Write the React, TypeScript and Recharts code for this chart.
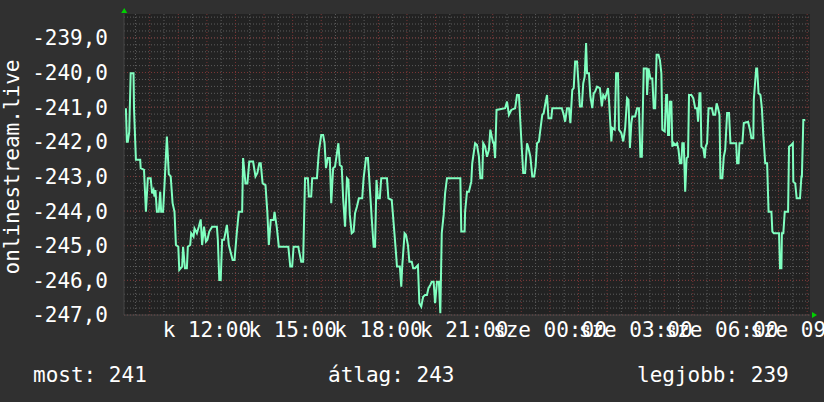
import React from 'react';
import { LineChart, Line, XAxis, YAxis, CartesianGrid, ReferenceDot } from 'recharts';

// minutes since Tuesday 09:00
const times = [
  10, 12, 14, 17, 20, 26, 27, 31, 40, 41, 48, 52, 56, 62, 65, 68, 70, 72, 75, 79,
  82, 84, 88, 91, 96, 100, 104, 108, 112, 115, 120, 122, 128, 130, 134, 138, 140, 145, 147, 152,
  154, 159, 163, 167, 170, 174, 178, 181, 185, 191, 201, 203, 206, 209, 212, 216, 222, 226, 234, 238,
  243, 247, 254, 256, 261, 265, 269, 277, 282, 286, 290, 293, 297, 303, 307, 310, 314, 320, 322, 327,
  331, 351, 355, 359, 362, 372, 373, 378, 382, 386, 392, 394, 399, 401, 411, 415, 420, 424, 427, 430,
  434, 438, 441, 445, 449, 453, 456, 459, 463, 466, 470, 474, 477, 480, 484, 488, 491, 495, 499, 506,
  509, 514, 518, 521, 526, 530, 533, 536, 539, 543, 546, 558, 561, 568, 572, 577, 579, 585, 588, 590,
  595, 598, 602, 605, 610, 613, 617, 623, 626, 630, 634, 638, 642, 645, 649, 652, 656, 659, 663, 667,
  670, 673, 677, 680, 684, 712, 714, 721, 722, 726, 730, 735, 737, 743, 747, 751, 754, 758, 760, 764,
  768, 772, 775, 778, 781, 782, 785, 788, 806, 810, 814, 819, 827, 831, 835, 840, 844, 848, 852, 855,
  859, 863, 867, 870, 873, 877, 880, 884, 887, 890, 894, 897, 903, 905, 925, 929, 932, 936, 940, 943,
  947, 950, 953, 957, 960, 963, 967, 970, 973, 976, 978, 982, 985, 989, 992, 995, 999, 1005, 1009, 1012,
  1016, 1022, 1024, 1029, 1031, 1036, 1039, 1043, 1045, 1050, 1054, 1058, 1062, 1065, 1068, 1071, 1073, 1079, 1083, 1087,
  1090, 1093, 1097, 1099, 1103, 1104, 1107, 1111, 1115, 1118, 1121, 1124, 1128, 1131, 1134, 1136, 1141, 1144, 1146, 1148,
  1150, 1152, 1155, 1157, 1160, 1163, 1167, 1170, 1173, 1176, 1178, 1181, 1184, 1187, 1190, 1192, 1197, 1201, 1205, 1209,
  1211, 1214, 1216, 1218, 1222, 1225, 1227, 1230, 1233, 1240, 1243, 1247, 1250, 1253, 1256, 1258, 1262, 1265, 1268, 1272,
  1276, 1279, 1291, 1293, 1296, 1298, 1304, 1307, 1316, 1320, 1323, 1327, 1328, 1333, 1335, 1338, 1342, 1345, 1348, 1352,
  1356, 1359, 1365, 1367, 1370, 1381, 1383, 1386, 1387, 1390, 1393, 1400, 1402, 1407, 1410, 1411, 1415, 1418, 1425, 1428,
  1429, 1432, 1436,
];

const values = [
  -241.03, -242.0, -242.0, -241.71, -240.02, -240.02, -241.03, -242.52, -242.52, -242.76, -242.81, -244.02, -243.05, -243.05, -243.49, -243.39, -243.58, -243.39, -244.02, -244.02,
  -243.44, -244.02, -244.02, -243.25, -241.85, -242.93, -243.0, -243.77, -244.02, -244.98, -245.03, -245.7, -245.6, -245.03, -245.65, -245.65, -245.03, -244.98, -244.64, -244.74,
  -244.5, -244.64, -244.45, -244.24, -244.98, -244.45, -244.88, -244.83, -244.59, -244.45, -244.45, -244.83, -245.99, -245.99, -244.83, -244.83, -244.4, -244.98, -245.41, -245.41,
  -244.59, -244.02, -244.02, -242.47, -243.2, -243.2, -242.57, -242.57, -243.0, -242.9, -242.62, -242.62, -243.2, -243.25, -244.06, -244.98, -244.26, -244.26, -244.02, -244.5,
  -245.03, -245.03, -245.6, -245.6, -245.03, -245.03, -245.12, -245.46, -245.46, -243.05, -243.05, -243.58, -243.58, -243.05, -243.05, -242.28, -241.8, -241.8, -242.04, -242.76,
  -242.47, -242.47, -243.77, -242.76, -242.71, -242.33, -242.04, -242.67, -242.71, -243.63, -244.45, -243.05, -243.1, -244.11, -244.64, -244.59, -244.06, -243.87, -243.63, -243.63,
  -243.05, -242.47, -242.47, -243.1, -244.21, -245.03, -245.03, -243.1, -243.63, -243.63, -243.05, -243.05, -243.63, -243.68, -244.35, -245.22, -245.6, -245.6, -246.18, -245.6,
  -244.64, -244.69, -244.98, -245.46, -245.46, -245.65, -245.65, -245.56, -246.66, -246.76, -246.47, -246.42, -246.42, -246.23, -246.13, -246.04, -246.04, -246.66, -246.04, -246.04,
  -246.95, -244.64, -244.11, -243.49, -243.05, -243.05, -244.59, -244.59, -244.02, -243.44, -243.44, -243.15, -242.62, -242.04, -242.09, -242.43, -243.05, -243.05, -242.04, -242.14,
  -242.43, -242.23, -241.65, -241.85, -242.04, -241.99, -242.47, -241.08, -241.03, -240.84, -241.22, -241.08, -241.03, -240.65, -240.65, -241.94, -242.9, -242.9, -242.04, -242.18,
  -242.43, -243.0, -243.0, -242.71, -242.04, -241.99, -241.65, -241.22, -241.17, -240.93, -240.65, -241.32, -241.32, -241.03, -241.03, -241.22, -241.42, -241.03, -241.03, -241.46,
  -240.5, -240.45, -239.68, -239.68, -240.31, -240.98, -240.98, -240.31, -240.12, -239.15, -240.02, -240.02, -240.69, -241.03, -240.6, -240.55, -240.41, -240.45, -240.98, -240.65,
  -240.74, -240.45, -240.79, -241.99, -241.6, -241.65, -240.02, -240.02, -241.65, -241.75, -241.99, -241.6, -240.74, -240.79, -242.18, -241.46, -241.27, -241.27, -241.03, -241.03,
  -242.43, -242.43, -239.88, -239.88, -239.88, -240.65, -239.88, -240.17, -240.17, -241.03, -241.03, -239.49, -239.49, -239.64, -240.02, -241.65, -241.7, -240.65, -240.65, -241.8,
  -241.8, -240.84, -240.84, -242.14, -242.04, -242.09, -242.04, -242.23, -242.62, -242.62, -242.04, -242.04, -243.44, -242.47, -242.43, -240.65, -240.65, -240.74, -241.03, -241.03,
  -241.42, -240.6, -240.6, -242.14, -242.19, -242.47, -242.14, -242.04, -241.03, -241.03, -241.22, -241.22, -240.89, -241.03, -241.22, -243.05, -243.05, -242.43, -242.23, -241.17,
  -241.17, -242.04, -242.04, -242.62, -242.62, -242.04, -242.04, -241.46, -241.42, -241.65, -241.9, -241.9, -240.79, -239.88, -239.88, -240.6, -240.65, -241.03, -241.8, -242.62,
  -242.62, -244.02, -244.02, -244.59, -244.64, -244.64, -245.65, -245.65, -244.64, -244.64, -244.02, -244.02, -242.14, -242.09, -242.04, -243.15, -243.2, -243.63, -243.63, -243.0,
  -243.0, -241.37, -241.37,
];

const tickTimes = [180, 360, 540, 720, 900, 1080, 1260, 1440];
const tickLabels = ['k 12:00', 'k 15:00', 'k 18:00', 'k 21:00', 'sze 00:00', 'sze 03:00', 'sze 06:00', 'sze 09:00'];
const yTicks = [-247, -246, -245, -244, -243, -242, -241, -240, -239];
const seriesName = 'onlinestream.live';
const legendLabels = ['most', 'átlag', 'legjobb'];
const legendValues = [241, 243, 239];

const X_MIN = 6;
const X_MAX = 1446;
const Y_MIN = -247;
const Y_MAX = -238.31;

const data = times.map((t, i) => ({ t, v: values[i] }));

const minorY: number[] = [];
for (let i = 0; i <= 43; i++) minorY.push(Math.round((Y_MIN + i * 0.2) * 100) / 100);
const minorX: number[] = [];
for (let m = 30; m < X_MAX; m += 60) minorX.push(m);
const majorX: number[] = [];
for (let m = 60; m <= X_MAX; m += 60) majorX.push(m);

const FONT = '"DejaVu Sans Mono", monospace';

const fmtY = (v: number) => v.toFixed(1).replace('.', ',');
const fmtX = (v: number) => {
  const i = tickTimes.indexOf(v);
  return i >= 0 ? tickLabels[i] : '';
};
const blank = () => '';

const UpArrow = (props: any) => {
  const { cx, cy } = props;
  if (cx == null || cy == null) return null;
  return <path d={`M${cx - 3},${cy - 1} L${cx + 3},${cy - 1} L${cx},${cy - 6} Z`} fill="#00d000" />;
};
const RightArrow = (props: any) => {
  const { cx, cy } = props;
  if (cx == null || cy == null) return null;
  return <path d={`M${cx + 2},${cy - 3} L${cx + 2},${cy + 3} L${cx + 7},${cy} Z`} fill="#00d000" />;
};

export default function App() {
  return (
    <div style={{ position: 'absolute', left: 0, top: 0, width: 824, height: 402, background: '#303030', overflow: 'hidden' }}>
      <LineChart width={824} height={402} data={data} margin={{ top: 14, right: 14, bottom: 57, left: 0 }}>
        <CartesianGrid
          horizontalValues={minorY}
          verticalValues={minorX}
          stroke="#5c5c5c"
          strokeDasharray="1 2"
          fill="#222222"
          fillOpacity={1}
        />
        <CartesianGrid
          horizontalValues={yTicks}
          verticalValues={majorX}
          stroke="#7a3434"
          strokeDasharray="1 2"
        />
        <XAxis
          type="number"
          dataKey="t"
          domain={[X_MIN, X_MAX]}
          ticks={tickTimes}
          interval={0}
          tickFormatter={fmtX}
          height={30}
          tickSize={0}
          tickMargin={7}
          axisLine={{ stroke: '#444444' }}
          tick={{ fill: '#ffffff', fontSize: 21, fontFamily: FONT }}
          allowDataOverflow
        />
        <XAxis
          xAxisId="halfHours"
          type="number"
          dataKey="t"
          domain={[X_MIN, X_MAX]}
          ticks={minorX}
          interval={0}
          tickFormatter={blank}
          height={0}
          tickSize={3}
          axisLine={false}
          tickLine={{ stroke: '#5c5c5c' }}
          allowDataOverflow
        />
        <XAxis
          xAxisId="hours"
          type="number"
          dataKey="t"
          domain={[X_MIN, X_MAX]}
          ticks={majorX}
          interval={0}
          tickFormatter={blank}
          height={0}
          tickSize={3}
          axisLine={false}
          tickLine={{ stroke: '#7a3434' }}
          allowDataOverflow
        />
        <YAxis
          type="number"
          domain={[Y_MIN, Y_MAX]}
          ticks={yTicks}
          interval={0}
          tickFormatter={fmtY}
          width={124}
          tickSize={0}
          tickMargin={16}
          axisLine={{ stroke: '#444444' }}
          tick={{ fill: '#ffffff', fontSize: 21, fontFamily: FONT }}
          allowDataOverflow
        />
        <Line
          type="linear"
          dataKey="v"
          stroke="#80ffc0"
          strokeWidth={2}
          dot={false}
          isAnimationActive={false}
        />
        <ReferenceDot x={X_MIN + 0.5} y={Y_MAX} r={0} shape={UpArrow} ifOverflow="visible" />
        <ReferenceDot x={X_MAX} y={Y_MIN} r={0} shape={RightArrow} ifOverflow="visible" />
      </LineChart>
      <svg width={824} height={402} style={{ position: 'absolute', left: 0, top: 0, pointerEvents: 'none' }}>
        <text
          x={0}
          y={0}
          transform="translate(19,167) rotate(-90)"
          textAnchor="middle"
          fill="#ffffff"
          fontSize={21}
          fontFamily={FONT}
        >
          {seriesName}
        </text>
        <text x={33} y={382} fill="#ffffff" fontSize={21} fontFamily={FONT}>{`${legendLabels[0]}: ${legendValues[0]}`}</text>
        <text x={328} y={382} fill="#ffffff" fontSize={21} fontFamily={FONT}>{`${legendLabels[1]}: ${legendValues[1]}`}</text>
        <text x={637} y={382} fill="#ffffff" fontSize={21} fontFamily={FONT}>{`${legendLabels[2]}: ${legendValues[2]}`}</text>
      </svg>
    </div>
  );
}
